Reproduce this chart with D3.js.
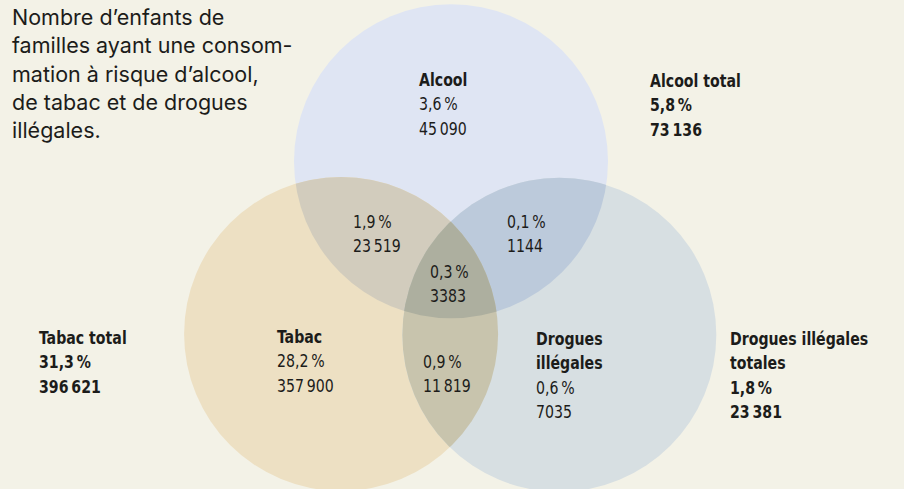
<!DOCTYPE html>
<html>
<head>
<meta charset="utf-8">
<script src="https://cdn.jsdelivr.net/npm/d3@7"></script>
<style>
  body { margin: 0; background: #f3f2e7; }
  .title { font-family: Inter, "Noto Sans", sans-serif; font-size: 21.5px; fill: #1c1c1a; }
  .lbl { font-family: "DejaVu Sans Condensed", "DejaVu Sans", sans-serif; font-size: 18.5px; fill: #1c1c1a; }
  .bold { font-weight: bold; }
</style>
</head>
<body>
<div id="chart"></div>
<script>
(function () {

  // title, already broken into lines like the original
  const titleLines = ['Nombre d\u2019enfants de', 'familles ayant une consom-', 'mation \u00e0 risque d\u2019alcool,', 'de tabac et de drogues', 'ill\u00e9gales.']

  // the three sets
  const sets = ['Alcool', 'Tabac', 'Drogues ill\u00e9gales']
  const totalNames = [['Alcool total'], ['Tabac total'], ['Drogues ill\u00e9gales', 'totales']]
  const totalPct = [5.8, 31.3, 1.8]
  const totalCount = [73136, 396621, 23381]

  // the seven regions of the diagram
  const regionKeys = ['A', 'T', 'D', 'AT', 'AD', 'TD', 'ATD']
  const regionNames = [['Alcool'], ['Tabac'], ['Drogues', 'ill\u00e9gales'], [], [], [], []]
  const regionPct = [3.6, 28.2, 0.6, 1.9, 0.1, 0.9, 0.3]
  const regionCount = [45090, 357900, 7035, 23519, 1144, 11819, 3383]

  const width = 904
  const height = 489

  const svg = d3.select('#chart').append('svg')
    .attr('width', width)
    .attr('height', height)

  svg.append('rect').attr('width', width).attr('height', height).attr('fill', '#f3f2e7')

  // circle layout in radius units, mapped to pixels by two scales
  const r = 157
  const xScale = d3.scaleLinear().domain([0, 1]).range([451, 451 + r])
  const yScale = d3.scaleLinear().domain([0, 1]).range([334, 334 + r])
  const centres = { A: [0, -1.1], T: [-0.7, 0], D: [0.69, 0.005] }

  const colors = {
    A: '#dfe5f3', T: '#ede0c3', D: '#d7dfe2',
    AT: '#d2ccbd', AD: '#bccadb', TD: '#c8c4ad', ATD: '#adaf9f'
  }

  const defs = svg.append('defs')
  Object.keys(centres).forEach(k => {
    defs.append('clipPath').attr('id', 'clip-' + k)
      .append('circle')
      .attr('cx', xScale(centres[k][0]))
      .attr('cy', yScale(centres[k][1]))
      .attr('r', r)
  })

  function circle (parent, k, fill) {
    parent.append('circle')
      .attr('cx', xScale(centres[k][0]))
      .attr('cy', yScale(centres[k][1]))
      .attr('r', r)
      .attr('fill', fill)
  }

  // base circles
  circle(svg, 'A', colors.A)
  circle(svg, 'T', colors.T)
  circle(svg, 'D', colors.D)
  // overlaps
  circle(svg.append('g').attr('clip-path', 'url(#clip-A)'), 'T', colors.AT)
  circle(svg.append('g').attr('clip-path', 'url(#clip-A)'), 'D', colors.AD)
  circle(svg.append('g').attr('clip-path', 'url(#clip-T)'), 'D', colors.TD)
  circle(svg.append('g').attr('clip-path', 'url(#clip-A)')
    .append('g').attr('clip-path', 'url(#clip-T)'), 'D', colors.ATD)

  // number formats (French)
  const fr = d3.formatLocale({ decimal: ',', thousands: '\u2009', grouping: [3], currency: ['', ' \u20ac'] })
  const fmtPct = v => fr.format('.1f')(v) + '\u2009%'
  const fmtCount = v => v >= 10000 ? fr.format(',d')(v) : String(v)

  // title
  svg.append('text')
    .attr('class', 'title')
    .selectAll('tspan')
    .data(titleLines)
    .join('tspan')
    .attr('x', 12)
    .attr('y', (d, i) => 25 + i * 28.3)
    .text(d => d)

  // label anchors (left edge, first baseline)
  const regionPos = {
    A: [419, 86], T: [277, 343], D: [536, 345],
    AT: [353, 228], AD: [507, 228], TD: [423, 368], ATD: [430, 278]
  }
  const totalPos = [[650, 87], [39, 344], [730, 345]]
  const lineH = 24.3
  const squeeze = 0.85 // the original uses a condensed face

  function block (pos, names, pct, count, allBold) {
    const lines = names.map(n => ({ t: n, b: true }))
      .concat([{ t: fmtPct(pct), b: allBold }, { t: fmtCount(count), b: allBold }])
    svg.append('g')
      .attr('transform', 'translate(' + pos[0] + ',' + pos[1] + ') scale(' + squeeze + ',1)')
      .append('text')
      .attr('class', 'lbl')
      .selectAll('tspan')
      .data(lines)
      .join('tspan')
      .attr('x', 0)
      .attr('y', (d, i) => i * lineH)
      .attr('class', d => d.b ? 'bold' : null)
      .text(d => d.t)
  }

  regionKeys.forEach((k, i) => block(regionPos[k], regionNames[i], regionPct[i], regionCount[i], false))
  sets.forEach((s, i) => block(totalPos[i], totalNames[i], totalPct[i], totalCount[i], true))

})();
</script>
</body>
</html>
